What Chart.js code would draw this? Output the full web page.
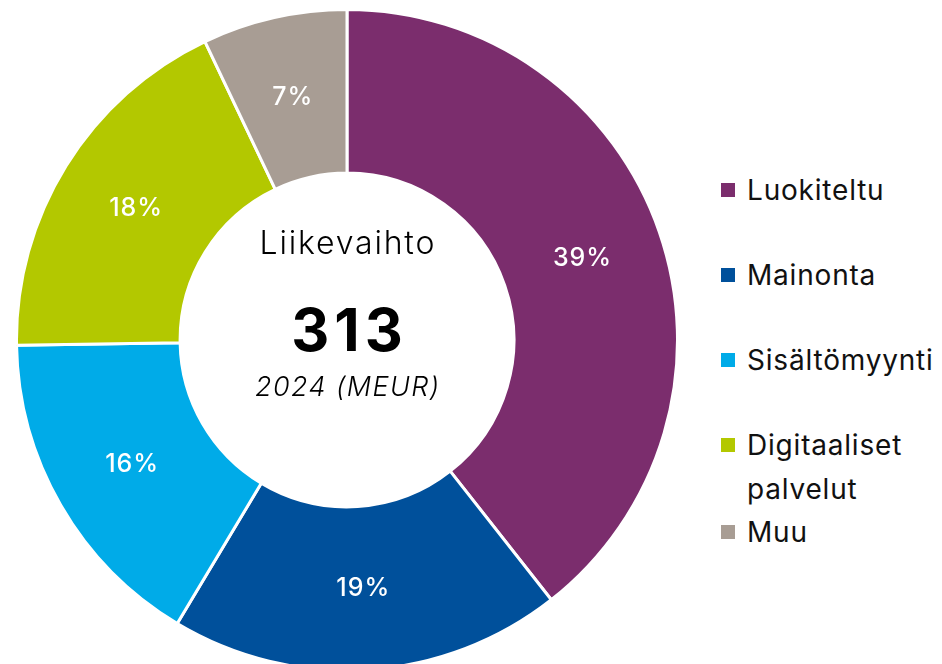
<!DOCTYPE html>
<html><head><meta charset="utf-8">
<script src="https://cdn.jsdelivr.net/npm/chart.js@4"></script>
<style>
html,body{margin:0;padding:0;background:#fff;width:942px;height:664px;overflow:hidden;font-family:Inter,"Noto Sans",sans-serif;}
#wrap{position:absolute;left:15px;top:8px;width:664px;height:664px;}
#center{position:absolute;left:197px;top:205px;width:300px;text-align:center;color:#000;}
#legend{position:absolute;left:721px;top:0;}
.li{position:absolute;left:0;display:flex;align-items:flex-start;font-size:28px;letter-spacing:0.8px;line-height:44px;color:#111;white-space:nowrap;}
.sw{width:14px;height:14px;margin-right:12px;margin-top:15px;flex:none;}
</style></head>
<body>
<div id="wrap"><canvas id="c"></canvas></div>
<div id="center">
  <div id="t1" style="position:absolute;left:0;width:300px;top:18px;font-size:32px;font-weight:300;letter-spacing:1.8px;text-indent:1.8px;line-height:40px;">Liikevaihto</div>
  <div id="t2" style="position:absolute;left:0;width:300px;top:90px;font-size:59px;font-weight:700;letter-spacing:5px;text-indent:5px;line-height:70px;">313</div>
  <div id="t3" style="position:absolute;left:0;width:300px;top:164px;font-size:27px;font-style:italic;font-weight:300;letter-spacing:1.4px;text-indent:1.4px;line-height:36px;">2024 (MEUR)</div>
</div>
<div id="legend"></div>
<script>
const categories = ["Luokiteltu", "Mainonta", "Sisältömyynti", "Digitaaliset palvelut", "Muu"];
const legendLines = [["Luokiteltu"], ["Mainonta"], ["Sisältömyynti"], ["Digitaaliset", "palvelut"], ["Muu"]];
const shares = [39, 19, 16, 18, 7];
const colors = ["#7b2d6d", "#00509b", "#00abe8", "#b3c800", "#a89d94"];
const legendTops = [168, 253, 338, 423, 510];

const lg = document.getElementById('legend');
legendLines.forEach((lines, i) => {
  const d = document.createElement('div');
  d.className = 'li';
  d.style.top = legendTops[i] + 'px';
  const sw = document.createElement('div');
  sw.className = 'sw';
  sw.style.background = colors[i];
  const tx = document.createElement('div');
  tx.innerHTML = lines.join('<br>');
  d.appendChild(sw); d.appendChild(tx);
  lg.appendChild(d);
});

const pctLabels = {
  id: 'pctLabels',
  afterDatasetsDraw(chart) {
    const ctx = chart.ctx;
    const meta = chart.getDatasetMeta(0);
    ctx.save();
    ctx.fillStyle = '#fff';
    ctx.font = '500 25px Inter, "Noto Sans", sans-serif';
    try { ctx.letterSpacing = '1px'; } catch (e) {}
    ctx.textAlign = 'center';
    ctx.textBaseline = 'middle';
    meta.data.forEach((arc, i) => {
      const p = arc.tooltipPosition();
      ctx.fillText(shares[i] + '%', p.x + 0.5, p.y);
    });
    ctx.restore();
  }
};

new Chart(document.getElementById('c'), {
  type: 'doughnut',
  data: {
    labels: categories,
    datasets: [{
      data: shares,
      backgroundColor: colors,
      borderColor: '#ffffff',
      borderWidth: 3
    }]
  },
  options: {
    responsive: true,
    maintainAspectRatio: false,
    animation: false,
    cutout: '50.5%',
    layout: { padding: 0 },
    plugins: { legend: { display: false }, tooltip: { enabled: false } }
  },
  plugins: [pctLabels]
});
</script>
</body></html>
